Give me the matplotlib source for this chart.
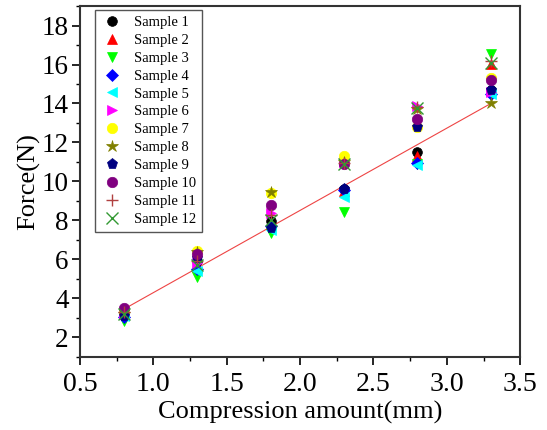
import numpy as np
import matplotlib
matplotlib.use('Agg')
import matplotlib.pyplot as plt
from matplotlib.ticker import MultipleLocator

plt.rcParams['font.family'] = 'Liberation Serif'

# compression amount (mm)
x = [0.8, 1.3, 1.8, 2.3, 2.8, 3.3]

# force (N) for each sample
s1 = [3.4, 5.9, 7.95, 9.6, 11.5, 14.7]
s2 = [3.2, 5.6, 7.8, 9.5, 11.3, 16.05]
s3 = [2.85, 5.1, 7.35, 8.45, 10.9, 16.55]
s4 = [3.05, 5.5, 7.7, 9.55, 10.95, 14.5]
s5 = [3.1, 5.4, 7.5, 9.2, 10.85, 14.5]
s6 = [3.2, 5.8, 8.4, 11.0, 13.85, 14.6]
s7 = [3.3, 6.45, 9.4, 11.3, 12.8, 15.3]
s8 = [3.2, 6.4, 9.45, 11.0, 13.7, 14.0]
s9 = [3.1, 6.05, 7.6, 9.6, 12.8, 14.7]
s10 = [3.5, 6.3, 8.8, 10.9, 13.2, 15.2]
s11 = [3.3, 5.9, 8.3, 10.95, 13.8, 16.2]
s12 = [3.2, 5.7, 8.0, 10.9, 13.75, 16.1]

# fitted line end points
fit_x = [0.8, 3.3]
fit_y = [3.45, 14.0]

series = [s1, s2, s3, s4, s5, s6, s7, s8, s9, s10, s11, s12]
labels = ['Sample %d' % (i + 1) for i in range(12)]
colors = ['black', 'red', '#00ff00', 'blue', 'cyan', 'magenta', 'yellow',
          '#808000', '#000080', '#800080', '#b04040', '#339933']
markers = ['o', '^', 'v', 'D', '<', '>', 'o', '*', 'p', 'o', '+', 'x']
sizes = [7, 7.5, 7.5, 6, 7.5, 7.5, 7.5, 9, 8, 7.5, 8, 8]

fig = plt.figure(figsize=(5.47, 4.30), dpi=100)
ax = fig.add_axes([0.146, 0.170, 0.805, 0.816])

ax.plot(fit_x, fit_y, color='#ee4444', lw=0.8, zorder=1)

for i in range(12):
    ax.plot(x, series[i], linestyle='none', marker=markers[i], color=colors[i],
            markersize=sizes[i], markeredgewidth=1 if markers[i] in '+x' else 0.5,
            markeredgecolor=colors[i], label=labels[i], zorder=2 + i)

ax.set_xlim(0.5, 3.5)
ax.set_ylim(1, 19)
ax.xaxis.set_minor_locator(MultipleLocator(0.25))
ax.yaxis.set_minor_locator(MultipleLocator(1))
ax.set_xticks(np.arange(0.5, 3.51, 0.5))
ax.set_xticklabels(['%.1f' % v for v in np.arange(0.5, 3.51, 0.5)])
ax.set_yticks(np.arange(2, 18.1, 2))

ax.tick_params(which='major', direction='out', length=6, width=1.2, labelsize=20)
ax.tick_params(axis='x', which='major', pad=5)
ax.tick_params(axis='y', which='major', pad=2, labelsize=19.5)
ax.tick_params(which='minor', direction='out', length=3, width=1.0)
for sp in ax.spines.values():
    sp.set_linewidth(1.5)
    sp.set_color('#333333')

ax.set_xlabel('Compression amount(mm)', fontsize=19, labelpad=3)
ax.set_ylabel('Force(N)', fontsize=19, labelpad=1)

leg = ax.legend(loc='upper left', bbox_to_anchor=(15 / 440, 1 - 4 / 351),
                borderaxespad=0, fontsize=10.5, labelspacing=0.32,
                handletextpad=0.8, handlelength=1.5, borderpad=0.4,
                fancybox=False, framealpha=1, edgecolor='#555555')
leg.get_frame().set_linewidth(1.0)

fig.savefig('out.png', dpi=100)
